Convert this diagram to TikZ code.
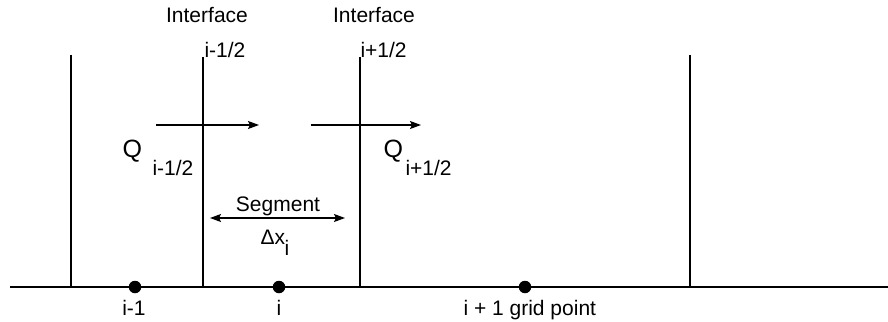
\documentclass[tikz,border=0pt]{standalone}
\usepackage{fontspec}
\setmainfont{Liberation Sans}
\usetikzlibrary{arrows.meta}
\begin{document}
\begin{tikzpicture}[x=1pt,y=-1pt,
  line width=1.1pt,
  lbl/.style={inner sep=0pt,anchor=base west,font=\fontsize{21}{25}\selectfont},
  lblc/.style={inner sep=0pt,anchor=base,font=\fontsize{21}{25}\selectfont},
  qlbl/.style={inner sep=0pt,anchor=base west,font=\fontsize{25}{30}\selectfont},
  flux/.style={-{Stealth[length=11pt,width=8pt,inset=2pt]}},
  dot/.style={circle,fill=black,inner sep=0pt,minimum size=12.5pt}]
\useasboundingbox (0,0) rectangle (888,321);
% baseline
\coordinate (bl) at (10,287);
\coordinate (br) at (888,287);
\draw (bl) -- (br);
% vertical lines
\coordinate (v1t) at (71,55);  \coordinate (v1b) at (71,287);
\coordinate (v2t) at (203,57); \coordinate (v2b) at (203,287);
\coordinate (v3t) at (360,57); \coordinate (v3b) at (360,287);
\coordinate (v4t) at (690,55); \coordinate (v4b) at (690,287);
\draw (v1t) -- (v1b);
\draw (v2t) -- (v2b);
\draw (v3t) -- (v3b);
\draw (v4t) -- (v4b);
% grid points
\node[dot] (p1) at (135,287) {};
\node[dot] (p2) at (279,287) {};
\node[dot] (p3) at (525,287) {};
\node[lblc] (l1) at (134,315) {i-1};
\node[lblc] (l2) at (279,315) {i};
\node[lbl] (l3) at (463,315) {i + 1 grid point};
% interface labels
\node[lblc] (if1) at (207,23) {Interface};
\node[lblc] (if2) at (374,23) {Interface};
\node[lbl] (h1) at (204,57) {i-1/2};
\node[lbl] (h2) at (360,57) {i+1/2};
% flux arrows
\coordinate (a1s) at (156,125); \coordinate (a1e) at (259,125);
\coordinate (a2s) at (311,125); \coordinate (a2e) at (421,125);
\draw[flux] (a1s) -- (a1e);
\draw[flux] (a2s) -- (a2e);
\node[qlbl] (q1) at (122,157) {Q};
\node[lbl] (q1s) at (152,175) {i-1/2};
\node[qlbl] (q2) at (383,157) {Q};
\node[lbl] (q2s) at (405,175) {i+1/2};
% segment
\node[lblc] (seg) at (278,211) {Segment};
\coordinate (s1) at (210,218); \coordinate (s2) at (345,218);
\draw[{Stealth[length=11pt,width=8pt,inset=2pt]}-{Stealth[length=11pt,width=8pt,inset=2pt]}] (s1) -- (s2);
\node[lbl] (dx) at (260,244) {Δx};
\node[lbl] (dxs) at (284,255) {i};
\end{tikzpicture}
\end{document}
